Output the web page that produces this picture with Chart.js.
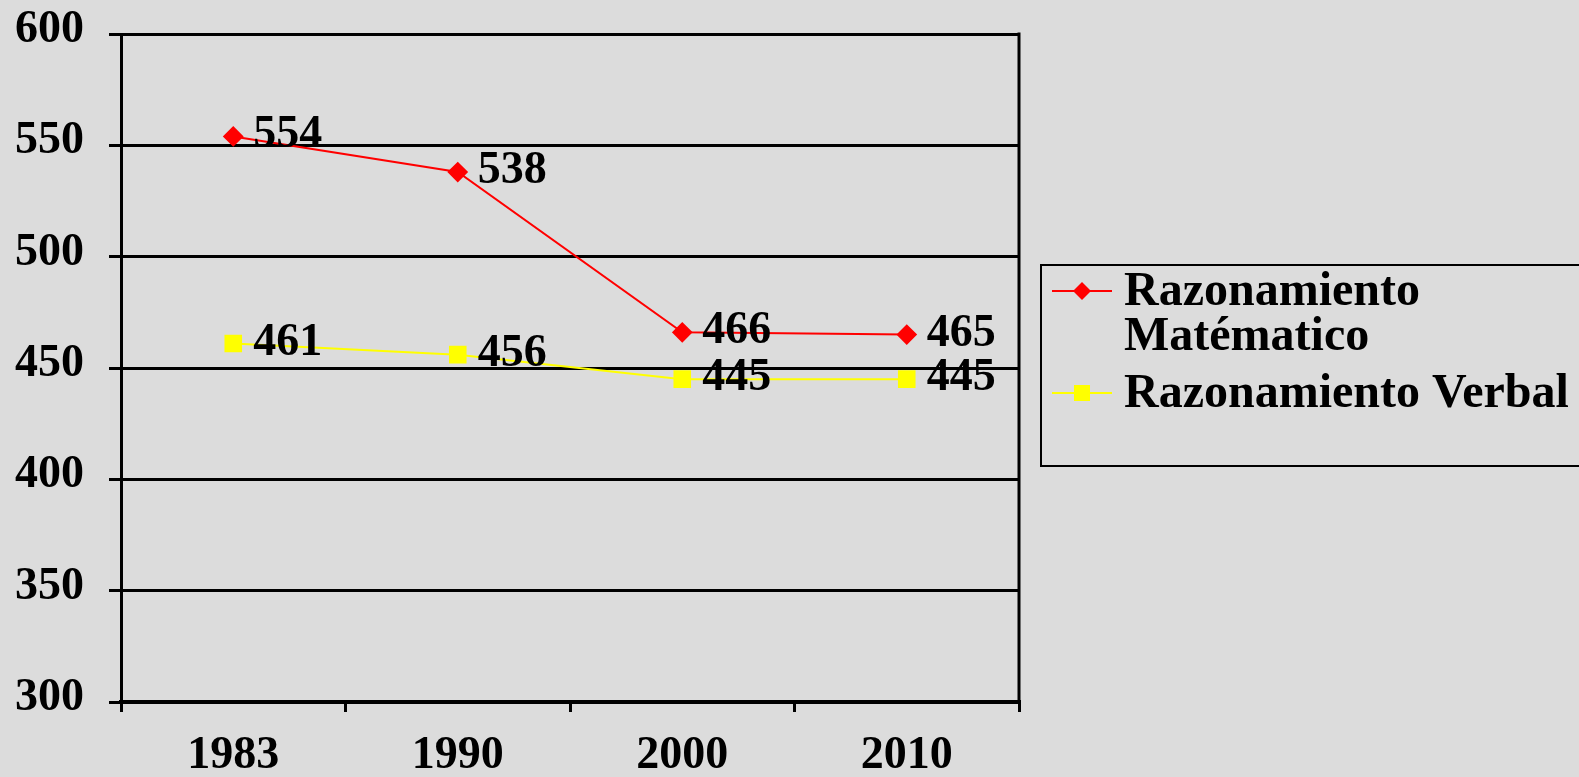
<!DOCTYPE html>
<html>
<head>
<meta charset="utf-8">
<script src="https://cdn.jsdelivr.net/npm/chart.js@4/dist/chart.umd.min.js"></script>
<style>
  html, body { margin: 0; padding: 0; background: #dcdcdc; }
  #wrap { width: 1579px; height: 777px; position: relative; }
</style>
</head>
<body>
<div id="wrap"><canvas id="scoreChart"></canvas></div>
<script>
(function(){
    const years = ['1983', '1990', '2000', '2010'];
    const mathScores = [554, 538, 466, 465];
    const verbalScores = [461, 456, 445, 445];
    const yTicks = [300, 350, 400, 450, 500, 550, 600];

    const FONT = 'bold 46px "Liberation Serif", "Times New Roman", serif';
    const LEGEND_FONT = 'bold 48px "Liberation Serif", "Times New Roman", serif';
    Chart.defaults.font.family = '"Liberation Serif", "Times New Roman", serif';
    Chart.defaults.font.size = 46;
    Chart.defaults.font.weight = 'bold';
    Chart.defaults.color = '#000';

    // value labels to the right of each point
    const valueLabels = {
        id: 'valueLabels',
        afterDatasetsDraw(chart){
            const ctx = chart.ctx;
            ctx.save();
            ctx.font = FONT;
            ctx.fillStyle = '#000';
            ctx.textAlign = 'left';
            ctx.textBaseline = 'alphabetic';
            chart.data.datasets.forEach((ds, i) => {
                chart.getDatasetMeta(i).data.forEach((pt, j) => {
                    ctx.fillText(String(ds.data[j]), pt.x + 20, pt.y + 11);
                });
            });
            ctx.restore();
        }
    };

    // right border of the plot + boxed legend on the right
    const frameAndLegend = {
        id: 'frameAndLegend',
        afterDraw(chart){
            const ctx = chart.ctx;
            const a = chart.chartArea;
            ctx.save();
            ctx.strokeStyle = '#000';
            ctx.lineWidth = 3;
            ctx.beginPath();
            ctx.moveTo(a.right, a.top - 1.5);
            ctx.lineTo(a.right, a.bottom);
            ctx.stroke();

            // legend box
            ctx.lineWidth = 2;
            ctx.strokeRect(1041, 265, 600, 201);

            ctx.font = LEGEND_FONT;
            ctx.textAlign = 'left';
            ctx.textBaseline = 'alphabetic';
            const rows = [
                {ds: chart.data.datasets[0], y: 291},
                {ds: chart.data.datasets[1], y: 393}
            ];
            rows.forEach(r => {
                ctx.strokeStyle = r.ds.borderColor;
                ctx.lineWidth = 2;
                ctx.beginPath();
                ctx.moveTo(1052, r.y);
                ctx.lineTo(1112, r.y);
                ctx.stroke();
                ctx.fillStyle = r.ds.pointBackgroundColor;
                const cx = 1082;
                if (r.ds.pointStyle === 'rectRot'){
                    const s = 9;
                    ctx.beginPath();
                    ctx.moveTo(cx - s, r.y); ctx.lineTo(cx, r.y - s);
                    ctx.lineTo(cx + s, r.y); ctx.lineTo(cx, r.y + s);
                    ctx.closePath(); ctx.fill();
                } else {
                    ctx.fillRect(cx - 8, r.y - 8, 16, 16);
                }
                // wrap text
                const words = r.ds.label.split(' ');
                const lines = [];
                let cur = '';
                words.forEach(w => {
                    const t = cur ? cur + ' ' + w : w;
                    if (cur && ctx.measureText(t).width > 470){ lines.push(cur); cur = w; }
                    else cur = t;
                });
                lines.push(cur);
                ctx.fillStyle = '#000';
                lines.forEach((ln, k) => ctx.fillText(ln, 1124, r.y + 14 + k * 45));
            });
            ctx.restore();
        }
    };

    const ctx = document.getElementById('scoreChart').getContext('2d');
    new Chart(ctx, {
        type: 'line',
        data: {
            labels: years,
            datasets: [
                {
                    label: 'Razonamiento Matématico',
                    data: mathScores,
                    borderColor: '#ff0000',
                    backgroundColor: '#ff0000',
                    pointBackgroundColor: '#ff0000',
                    pointBorderColor: '#ff0000',
                    pointStyle: 'rectRot',
                    pointRadius: 9,
                    borderWidth: 2,
                    tension: 0
                },
                {
                    label: 'Razonamiento Verbal',
                    data: verbalScores,
                    borderColor: '#ffff00',
                    backgroundColor: '#ffff00',
                    pointBackgroundColor: '#ffff00',
                    pointBorderColor: '#ffff00',
                    pointStyle: 'rect',
                    pointRadius: 11,
                    borderWidth: 2,
                    tension: 0
                }
            ]
        },
        options: {
            responsive: true,
            maintainAspectRatio: false,
            animation: false,
            layout: { padding: { top: 34, right: 560, left: 0, bottom: 0 } },
            plugins: { legend: { display: false }, tooltip: { enabled: false } },
            scales: {
                x: {
                    offset: true,
                    grid: { offset: true, drawOnChartArea: false, color: '#000', lineWidth: 3, tickLength: 10 },
                    border: { color: '#000', width: 4 },
                    ticks: { padding: 17, maxRotation: 0 },
                    afterFit(axis){ axis.height = 75; axis.paddingLeft = 0; axis.paddingRight = 0; }
                },
                y: {
                    min: yTicks[0],
                    max: yTicks[yTicks.length - 1],
                    afterBuildTicks(axis){ axis.ticks = yTicks.map(v => ({value: v})); },
                    grid: { color: '#000', lineWidth: 3, tickLength: 12 },
                    border: { color: '#000', width: 3 },
                    ticks: { padding: 25, labelOffset: -4 },
                    afterFit(axis){ axis.width = 121; axis.paddingTop = 0; axis.paddingBottom = 0; }
                }
            }
        },
        plugins: [valueLabels, frameAndLegend]
    });
})();
</script>
</body>
</html>
